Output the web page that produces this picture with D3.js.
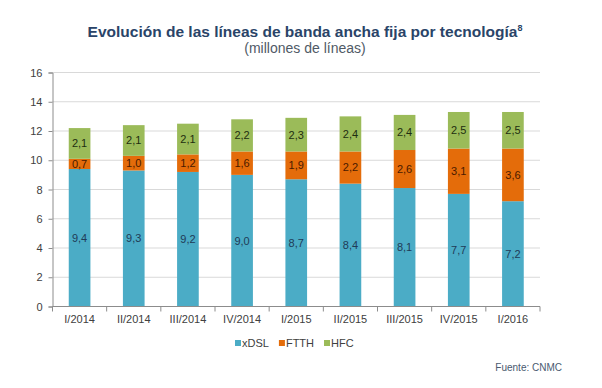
<!DOCTYPE html>
<html>
<head>
<meta charset="utf-8">
<script src="https://cdn.jsdelivr.net/npm/d3@7"></script>
<style>
  body { margin: 0; background: #fff; }
  text { font-family: "Liberation Sans", Arial, sans-serif; }
</style>
</head>
<body>
<div id="chart"></div>
<script>
const periods = ["I/2014", "II/2014", "III/2014", "IV/2014", "I/2015", "II/2015", "III/2015", "IV/2015", "I/2016"]
const xdsl = [9.4, 9.3, 9.2, 9.0, 8.7, 8.4, 8.1, 7.7, 7.2]
const ftth = [0.7, 1.0, 1.2, 1.6, 1.9, 2.2, 2.6, 3.1, 3.6]
const hfc = [2.1, 2.1, 2.1, 2.2, 2.3, 2.4, 2.4, 2.5, 2.5]
const seriesNames = ["xDSL", "FTTH", "HFC"]
const yTicks = [0, 2, 4, 6, 8, 10, 12, 14, 16]

const colors = ["#4bacc6", "#e46c0a", "#9bbb59"]
const labelColors = ["#1f3b57", "#4a1a00", "#1e2e10"]

const width = 602, height = 388
const margin = { top: 72.5, right: 62, bottom: 81.5, left: 52.5 }

const svg = d3.select("#chart").append("svg")
    .attr("width", width)
    .attr("height", height)

// title
const title = svg.append("text")
    .attr("x", 305)
    .attr("y", 37)
    .attr("text-anchor", "middle")
    .attr("font-size", 15.5)
    .attr("font-weight", "bold")
    .attr("fill", "#2a4468")
title.append("tspan").text("Evolución de las líneas de banda ancha fija por tecnología")
title.append("tspan").attr("font-size", 9).attr("dy", -6).text("8")

svg.append("text")
    .attr("x", 305)
    .attr("y", 53)
    .attr("text-anchor", "middle")
    .attr("font-size", 14)
    .attr("fill", "#505a66")
    .text("(millones de líneas)")

const data = periods.map((p, i) => ({ period: p, xDSL: xdsl[i], FTTH: ftth[i], HFC: hfc[i] }))
const stacked = d3.stack().keys(seriesNames)(data)

const x = d3.scaleBand()
    .domain(periods)
    .range([margin.left, width - margin.right])
    .paddingInner(0.6)
    .paddingOuter(0.3)

const y = d3.scaleLinear()
    .domain([0, 16])
    .range([height - margin.bottom, margin.top])

// gridlines
svg.append("g")
    .selectAll("line")
    .data(yTicks.slice(1))
    .enter().append("line")
    .attr("x1", margin.left)
    .attr("x2", width - margin.right)
    .attr("y1", d => y(d))
    .attr("y2", d => y(d))
    .attr("stroke", "#d9d9d9")
    .attr("stroke-width", 1)

// y axis
const yAxis = svg.append("g")
    .attr("transform", `translate(${margin.left},0)`)
    .call(d3.axisLeft(y).tickValues(yTicks).tickSize(4).tickPadding(6))
yAxis.select(".domain").attr("stroke", "#8c8c8c")
yAxis.selectAll(".tick line").attr("stroke", "#8c8c8c")
yAxis.selectAll("text").attr("font-size", 11).attr("fill", "#404040")
    .attr("font-family", "Liberation Sans, Arial, sans-serif")

// bars
const layer = svg.append("g")
    .selectAll("g")
    .data(stacked)
    .enter().append("g")
    .attr("fill", (d, i) => colors[i])

layer.selectAll("rect")
    .data(d => d)
    .enter().append("rect")
    .attr("x", d => x(d.data.period))
    .attr("width", x.bandwidth())
    .attr("y", d => y(d[1]))
    .attr("height", d => y(d[0]) - y(d[1]))

// value labels
svg.append("g")
    .selectAll("g")
    .data(stacked)
    .enter().append("g")
    .attr("fill", (d, i) => labelColors[i])
    .selectAll("text")
    .data(d => d)
    .enter().append("text")
    .attr("x", d => x(d.data.period) + x.bandwidth() / 2)
    .attr("y", d => y((d[0] + d[1]) / 2))
    .attr("dy", "0.35em")
    .attr("text-anchor", "middle")
    .attr("font-size", 11)
    .text(d => d3.format(".1f")(d[1] - d[0]).replace(".", ","))

// x axis
const xAxisG = svg.append("g")
    .attr("transform", `translate(0,${height - margin.bottom})`)
xAxisG.append("line")
    .attr("x1", margin.left)
    .attr("x2", width - margin.right)
    .attr("stroke", "#8c8c8c")
const boundaries = d3.range(periods.length + 1).map(i => margin.left + i * (width - margin.left - margin.right) / periods.length)
xAxisG.selectAll(".xtick")
    .data(boundaries)
    .enter().append("line")
    .attr("x1", d => d)
    .attr("x2", d => d)
    .attr("y1", 0)
    .attr("y2", 5)
    .attr("stroke", "#8c8c8c")
xAxisG.selectAll(".xlabel")
    .data(periods)
    .enter().append("text")
    .attr("x", d => x(d) + x.bandwidth() / 2)
    .attr("y", 16)
    .attr("text-anchor", "middle")
    .attr("font-size", 11)
    .attr("fill", "#404040")
    .text(d => d)

// legend
const legend = svg.append("g").attr("transform", "translate(235,343)")
let lx = 0
seriesNames.forEach((name, i) => {
    legend.append("rect")
        .attr("x", lx)
        .attr("y", -3)
        .attr("width", 6)
        .attr("height", 6)
        .attr("fill", colors[i])
    const t = legend.append("text")
        .attr("x", lx + 7)
        .attr("y", 0)
        .attr("dy", "0.35em")
        .attr("font-size", 11)
        .attr("fill", "#404040")
        .text(name)
    lx += 7 + t.node().getComputedTextLength() + 10
})

svg.append("text")
    .attr("x", 562)
    .attr("y", 371)
    .attr("text-anchor", "end")
    .attr("font-size", 10)
    .attr("fill", "#4a5a70")
    .text("Fuente: CNMC")
</script>
</body>
</html>
